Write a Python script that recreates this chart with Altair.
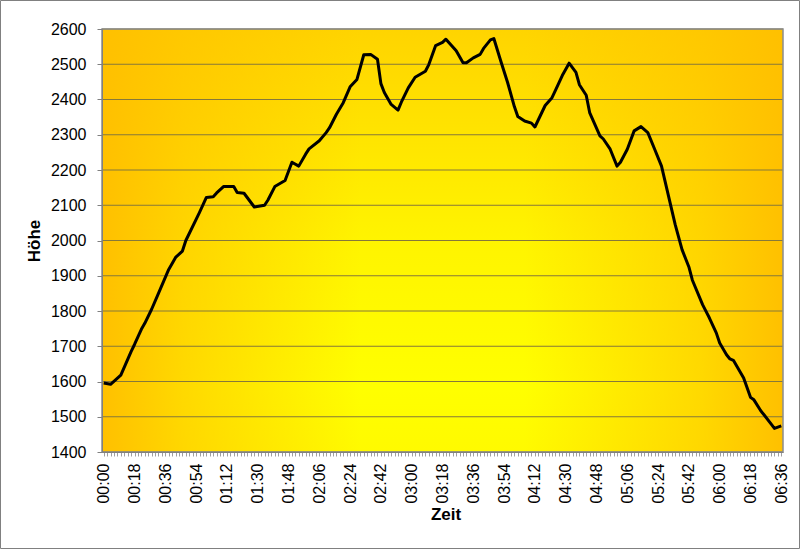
import altair as alt
import pandas as pd

# time in minutes since 00:00, altitude
minutes = [0, 4, 10, 16, 18, 22, 24, 28, 32, 38, 42, 46, 48, 56, 60, 64, 66, 70, 76, 78,
           82, 88, 94, 96, 100, 106, 110, 114, 118, 120, 126, 130, 132, 136, 140, 144, 148,
           152, 156, 160, 162, 164, 168, 172, 174, 178, 182, 188, 190, 194, 198, 200, 206,
           210, 212, 216, 220, 222, 226, 228, 232, 236, 240, 242, 246, 250, 252, 258, 262,
           264, 268, 272, 276, 278, 282, 284, 290, 292, 296, 300, 302, 306, 310, 314, 318,
           322, 326, 330, 334, 338, 342, 344, 350, 354, 358, 360, 364, 366, 368, 374, 378,
           380, 384, 386, 390, 392, 396]
hoehe = [1596, 1592, 1618, 1685, 1705, 1748, 1765, 1805, 1850, 1918, 1952, 1970, 2000, 2080,
         2122, 2124, 2135, 2153, 2153, 2136, 2134, 2095, 2100, 2115, 2153, 2170, 2222, 2211,
         2245, 2260, 2283, 2306, 2320, 2358, 2391, 2436, 2457, 2527, 2528, 2514, 2445, 2420,
         2386, 2370, 2393, 2433, 2463, 2480, 2499, 2553, 2562, 2571, 2538, 2504, 2504, 2518,
         2528, 2545, 2569, 2573, 2510, 2449, 2380, 2352, 2339, 2333, 2322, 2383, 2405, 2426,
         2468, 2503, 2477, 2442, 2412, 2363, 2297, 2288, 2259, 2211, 2222, 2259, 2311, 2323,
         2306, 2259, 2211, 2128, 2045, 1974, 1925, 1888, 1818, 1780, 1738, 1709, 1676, 1664,
         1660, 1610, 1555, 1548, 1517, 1505, 1480, 1467, 1474]

y_ticks = list(range(1400, 2601, 100))
x_ticks = list(range(0, 397, 2))

W, H = 681, 423
PAD = {"left": 102, "top": 29, "right": 17, "bottom": 97}

df = pd.DataFrame({"min": minutes, "hoehe": hoehe})
grid_df = pd.DataFrame({"hoehe": y_ticks})
one = pd.DataFrame({"k": [0]})

x_scale = alt.Scale(domain=[-1, 397], nice=False, zero=False)
y_scale = alt.Scale(domain=[1400, 2600], nice=False, zero=False)

y_enc = alt.Y(
    "hoehe:Q",
    scale=y_scale,
    axis=alt.Axis(
        values=y_ticks, grid=False, title="Höhe", zindex=1, format="d",
        domainColor="#808080", tickColor="#808080", tickSize=5,
        labelPadding=11, labelFontSize=16, labelColor="black",
        titleFontSize=17, titleFontWeight="bold", titleColor="black",
        titleX=-59, titleY=H / 2,
    ),
)
x_enc = alt.X(
    "min:Q",
    scale=x_scale,
    axis=alt.Axis(
        values=x_ticks, grid=False, title="Zeit", zindex=1,
        labelExpr="datum.value % 18 == 0 ? utcFormat(datum.value * 60000, '%H:%M') : ''",
        labelAngle=270, labelOverlap=False, labelFlush=False,
        domainColor="#808080", tickColor="#a0a0a0", tickSize=4,
        labelPadding=7, labelFontSize=16, labelColor="black",
        titleFontSize=17, titleFontWeight="bold", titleColor="black",
        titleX=W / 2 + 3, titleY=67, titleBaseline="alphabetic",
    ),
)

bg_vert = {"gradient": "linear", "x1": 0, "y1": 0, "x2": 0, "y2": 1,
           "stops": [{"offset": 0, "color": "#FFD400"},
                     {"offset": 0.5, "color": "#FFF400"},
                     {"offset": 0.85, "color": "#FFFF00"},
                     {"offset": 1, "color": "#FFFA00"}]}
bg_horiz = {"gradient": "linear", "x1": 0, "y1": 0, "x2": 1, "y2": 0,
            "stops": [{"offset": 0, "color": "rgba(255,192,0,1)"},
                      {"offset": 0.12, "color": "rgba(255,192,0,0.6)"},
                      {"offset": 0.38, "color": "rgba(255,192,0,0)"},
                      {"offset": 0.62, "color": "rgba(255,192,0,0)"},
                      {"offset": 0.88, "color": "rgba(255,192,0,0.6)"},
                      {"offset": 1, "color": "rgba(255,192,0,1)"}]}

box = dict(x=alt.value(0), x2=alt.value(W), y=alt.value(0), y2=alt.value(H))

bg1 = alt.Chart(one).mark_rect(fill=bg_vert).encode(**box)
bg2 = alt.Chart(one).mark_rect(fill=bg_horiz).encode(**box)

grid = alt.Chart(grid_df).mark_rule(color="#86783a", strokeWidth=1).encode(y=y_enc)

line = alt.Chart(df).mark_line(color="black", strokeWidth=3, strokeJoin="round").encode(
    x=x_enc, y=y_enc
)

frame = alt.Chart(one).mark_rect(fillOpacity=0, stroke="#8c8c8c", strokeWidth=1.5).encode(**box)

outer = alt.Chart(one).mark_rect(fillOpacity=0, stroke="#808080", strokeWidth=1).encode(
    x=alt.value(-PAD["left"] + 0.5), x2=alt.value(W + PAD["right"] - 0.5),
    y=alt.value(-PAD["top"] + 0.5), y2=alt.value(H + PAD["bottom"] - 0.5),
)

chart = (
    alt.layer(bg1, bg2, grid, line, frame, outer)
    .properties(width=W, height=H, autosize=alt.AutoSizeParams(type="none"),
                padding=PAD, background="white")
    .configure(font="Liberation Sans")
    .configure_view(stroke="transparent")
)

chart.save("out.html", embed_options={"renderer": "svg", "actions": False})
